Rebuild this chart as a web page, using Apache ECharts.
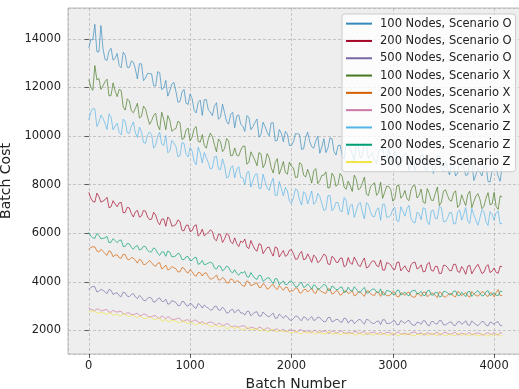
<!DOCTYPE html>
<html>
<head>
<meta charset="utf-8">
<script src="https://cdn.jsdelivr.net/npm/echarts@6/dist/echarts.min.js"></script>
<style>
  html, body { margin: 0; padding: 0; background: #fff; }
  #chart { width: 519px; height: 389px; }
</style>
</head>
<body>
<div id="chart"></div>
<script>
// batch number of each sample: index * step
var BATCH_STEP = 20;

var seriesNames = [
  "100 Nodes, Scenario O", "200 Nodes, Scenario O", "500 Nodes, Scenario O",
  "100 Nodes, Scenario X", "200 Nodes, Scenario X", "500 Nodes, Scenario X",
  "100 Nodes, Scenario Z", "200 Nodes, Scenario Z", "500 Nodes, Scenario Z"
];
var seriesColors = ["#348ABD", "#A60628", "#7A68A6", "#467821", "#D55E00", "#CC79A7", "#56B4E9", "#009E73", "#F0E442"];

var cost100O = [13620, 13970, 13960, 14600, 13470, 13460, 14550, 13610, 13160, 13110, 13500, 13610, 13120, 13200, 13400, 12900, 12810, 13450, 13320, 12830, 12820, 13090, 13040, 12760, 12350, 12980, 12970, 12280, 12390, 12580, 12570, 12560, 12070, 12060, 12650, 12600, 11910, 11980, 12290, 11640, 11870, 12140, 12210, 11840, 11390, 11420, 11810, 11920, 11350, 11300, 11730, 11540, 11060, 10950, 11390, 11480, 10850, 11500, 11500, 11070, 10990, 10840, 11240, 11370, 10690, 10780, 11310, 10960, 10600, 10490, 10890, 10980, 10340, 10830, 10870, 10480, 10410, 10190, 10840, 10770, 10260, 10390, 10560, 10700, 9950, 10080, 10570, 10390, 10160, 10010, 10540, 10550, 9800, 9820, 10270, 10120, 9770, 10190, 10080, 9610, 9620, 9760, 10100, 10090, 10070, 9450, 9470, 9940, 10160, 9780, 9560, 9500, 9800, 9990, 9290, 9550, 9890, 9320, 9500, 9920, 9900, 9360, 9220, 9610, 9630, 9220, 9040, 9710, 9610, 9480, 9260, 8970, 9680, 9550, 9090, 9200, 9700, 9610, 9070, 9220, 9320, 8990, 8850, 9360, 9430, 9540, 9000, 8950, 9490, 9040, 8780, 9370, 9190, 8740, 8800, 9150, 9300, 9250, 8590, 8820, 9160, 8590, 8850, 8960, 9230, 9220, 8600, 8590, 9010, 9040, 8460, 8690, 9190, 9180, 8650, 8520, 8980, 8650, 8400, 8870, 8770, 8360, 8470, 8940, 9000, 8710, 8380, 8410, 8870, 8940, 8170, 8400, 8670, 8500, 8360, 8750, 8820, 8130, 8110, 8580, 8650, 8640, 8350, 8140, 8800];

var cost200O = [7680, 7450, 7310, 7280, 7650, 7510, 7280, 7320, 7380, 7480, 7050, 7090, 7340, 7200, 7090, 7250, 7270, 6840, 6860, 7070, 7040, 6810, 6670, 6880, 6940, 6660, 6710, 6940, 6910, 6670, 6560, 6580, 6860, 6750, 6480, 6350, 6580, 6590, 6290, 6670, 6570, 6290, 6310, 6360, 6550, 6480, 6120, 6100, 6320, 6340, 6070, 6110, 6300, 6350, 5880, 5970, 6170, 5890, 5970, 6030, 6140, 6070, 5760, 5690, 5960, 5940, 5620, 5760, 5990, 5930, 5650, 5570, 5810, 5570, 5450, 5680, 5620, 5760, 5430, 5370, 5700, 5500, 5330, 5260, 5570, 5530, 5160, 5290, 5410, 5430, 5210, 5060, 5440, 5390, 5020, 5160, 5290, 5050, 5100, 5300, 5320, 5160, 4930, 4940, 5150, 5250, 4910, 4940, 5150, 4990, 4800, 5100, 5020, 4790, 4850, 4990, 5140, 5080, 4740, 4710, 5050, 4980, 4810, 4800, 4970, 4980, 4620, 4680, 5000, 4780, 4720, 5020, 4860, 4680, 4630, 4840, 4980, 4570, 4610, 4760, 4860, 4850, 4670, 4620, 4900, 4490, 4480, 4790, 4760, 4700, 4540, 4500, 4790, 4820, 4450, 4560, 4660, 4490, 4400, 4710, 4790, 4810, 4530, 4580, 4700, 4410, 4430, 4730, 4800, 4470, 4440, 4640, 4630, 4340, 4350, 4680, 4680, 4590, 4460, 4460, 4720, 4720, 4430, 4390, 4630, 4500, 4310, 4640, 4680, 4330, 4480, 4610, 4720, 4540, 4340, 4390, 4620, 4710, 4380, 4440, 4570, 4390, 4350, 4650, 4620];

var cost500O = [3680, 3770, 3810, 3800, 3580, 3610, 3690, 3650, 3590, 3510, 3690, 3650, 3480, 3530, 3550, 3430, 3390, 3580, 3540, 3410, 3390, 3480, 3510, 3380, 3310, 3440, 3370, 3240, 3220, 3320, 3360, 3320, 3160, 3190, 3300, 3340, 3200, 3180, 3290, 3080, 3100, 3230, 3190, 3150, 3020, 3030, 3190, 3180, 3040, 3000, 3120, 3070, 2950, 2910, 3110, 3050, 2920, 3050, 2970, 2920, 2840, 2850, 2990, 3000, 2840, 2830, 2960, 2870, 2720, 2730, 2840, 2870, 2720, 2820, 2850, 2720, 2720, 2630, 2780, 2790, 2600, 2680, 2750, 2770, 2590, 2590, 2760, 2670, 2600, 2560, 2650, 2710, 2500, 2510, 2680, 2590, 2500, 2610, 2560, 2440, 2410, 2490, 2590, 2580, 2460, 2400, 2560, 2530, 2410, 2490, 2570, 2410, 2440, 2550, 2520, 2440, 2350, 2370, 2530, 2540, 2350, 2390, 2450, 2450, 2350, 2340, 2510, 2480, 2300, 2410, 2430, 2280, 2350, 2440, 2450, 2340, 2260, 2460, 2430, 2350, 2290, 2290, 2370, 2390, 2240, 2440, 2440, 2280, 2290, 2310, 2380, 2400, 2240, 2230, 2410, 2350, 2290, 2380, 2420, 2270, 2220, 2210, 2340, 2320, 2250, 2400, 2390, 2230, 2190, 2360, 2370, 2270, 2270, 2410, 2400, 2230, 2230, 2280, 2340, 2340, 2210, 2210, 2350, 2370, 2250, 2310, 2400, 2230, 2210, 2390, 2310, 2250, 2190, 2280, 2370, 2350, 2220, 2180, 2350, 2310, 2250, 2340, 2360, 2200, 2210];

var cost100X = [12330, 12020, 11880, 12900, 12310, 12370, 11920, 12060, 12240, 12340, 11650, 11670, 12190, 11860, 11620, 11920, 11870, 11190, 11070, 11530, 11450, 11040, 10960, 11140, 11350, 10740, 10810, 11230, 11120, 10780, 10480, 10630, 10850, 10940, 10440, 10260, 10980, 10680, 10260, 10840, 10650, 10190, 10270, 10310, 10610, 10550, 9860, 9910, 10250, 10330, 9800, 9960, 10310, 10390, 9780, 9750, 10060, 9610, 9500, 9890, 10120, 9980, 9640, 9350, 9880, 9770, 9360, 9480, 9900, 9790, 9190, 9200, 9510, 9220, 9180, 9420, 9580, 9590, 8840, 8920, 9350, 9180, 9000, 8780, 9320, 9260, 8700, 8860, 9280, 9110, 8700, 8480, 8910, 9070, 8430, 8670, 8950, 8500, 8430, 8930, 8750, 8690, 8290, 8310, 8900, 8840, 8400, 8310, 8630, 8380, 8060, 8570, 8660, 8040, 8170, 8380, 8390, 8530, 7860, 7880, 8470, 8330, 7930, 8030, 8460, 8340, 7900, 7810, 8140, 7960, 7720, 8390, 8220, 7790, 7850, 8060, 8310, 7610, 7550, 7920, 8010, 8080, 7560, 7670, 8100, 7440, 7680, 7940, 7920, 7800, 7320, 7420, 7950, 7980, 7440, 7550, 7760, 7420, 7340, 7780, 7960, 7950, 7450, 7560, 7820, 7280, 7230, 7840, 7640, 7360, 7350, 7640, 7900, 7140, 7280, 7730, 7790, 7560, 7360, 7320, 7650, 7750, 7060, 7170, 7580, 7340, 7140, 7590, 7730, 7050, 7300, 7520, 7630, 7400, 7010, 7110, 7440, 7670, 7170, 7200, 7680, 7100, 6980, 7540, 7490];

var cost200X = [5330, 5420, 5440, 5440, 5270, 5230, 5340, 5260, 5160, 5090, 5280, 5230, 5030, 5100, 5110, 4990, 4970, 5140, 5120, 4930, 4910, 5000, 4980, 4890, 4770, 4930, 4880, 4710, 4720, 4800, 4870, 4790, 4680, 4640, 4760, 4790, 4530, 4590, 4690, 4490, 4520, 4630, 4580, 4540, 4410, 4410, 4590, 4560, 4420, 4360, 4500, 4420, 4280, 4230, 4390, 4370, 4240, 4360, 4370, 4220, 4110, 4130, 4200, 4280, 4080, 4080, 4180, 4120, 3960, 3960, 4120, 4090, 3960, 4040, 4020, 3920, 3840, 3820, 4040, 3990, 3840, 3880, 3910, 3960, 3770, 3770, 3930, 3860, 3700, 3740, 3850, 3900, 3750, 3680, 3850, 3750, 3650, 3770, 3770, 3590, 3630, 3640, 3750, 3740, 3540, 3550, 3670, 3700, 3580, 3650, 3740, 3570, 3520, 3720, 3660, 3590, 3560, 3520, 3710, 3700, 3500, 3530, 3640, 3610, 3450, 3490, 3610, 3630, 3520, 3560, 3640, 3420, 3460, 3590, 3570, 3490, 3400, 3620, 3630, 3510, 3460, 3440, 3590, 3560, 3400, 3610, 3510, 3430, 3430, 3470, 3600, 3560, 3400, 3380, 3550, 3520, 3440, 3550, 3580, 3430, 3370, 3370, 3530, 3490, 3400, 3570, 3580, 3390, 3450, 3530, 3530, 3430, 3350, 3590, 3540, 3400, 3370, 3450, 3510, 3520, 3410, 3380, 3600, 3560, 3430, 3500, 3560, 3420, 3370, 3600, 3510, 3440, 3410, 3480, 3600, 3560, 3450, 3390, 3550, 3540, 3380, 3560, 3680, 3430, 3440];

var cost500X = [2940, 2870, 2840, 2820, 2880, 2880, 2800, 2820, 2850, 2860, 2750, 2750, 2830, 2780, 2750, 2790, 2780, 2680, 2660, 2730, 2720, 2660, 2650, 2680, 2710, 2610, 2620, 2680, 2660, 2600, 2550, 2570, 2600, 2610, 2520, 2490, 2600, 2550, 2480, 2560, 2530, 2450, 2460, 2460, 2510, 2490, 2380, 2380, 2430, 2440, 2350, 2370, 2420, 2430, 2330, 2320, 2360, 2290, 2270, 2320, 2350, 2330, 2270, 2220, 2300, 2270, 2200, 2220, 2280, 2260, 2160, 2150, 2200, 2150, 2140, 2170, 2190, 2190, 2070, 2080, 2140, 2120, 2080, 2050, 2130, 2120, 2020, 2050, 2110, 2090, 2020, 1980, 2040, 2070, 1970, 2010, 2050, 1970, 1950, 2040, 2000, 2000, 1940, 1940, 2030, 2020, 1960, 1950, 1990, 1950, 1910, 1990, 2000, 1900, 1930, 1960, 1970, 1990, 1880, 1890, 1980, 1960, 1890, 1910, 1980, 1970, 1890, 1880, 1930, 1910, 1860, 1970, 1950, 1880, 1890, 1930, 1960, 1850, 1850, 1910, 1920, 1940, 1850, 1870, 1940, 1840, 1880, 1920, 1920, 1890, 1820, 1840, 1920, 1930, 1840, 1860, 1900, 1840, 1830, 1900, 1930, 1930, 1860, 1870, 1910, 1820, 1820, 1910, 1880, 1840, 1840, 1890, 1930, 1810, 1830, 1910, 1920, 1880, 1850, 1850, 1900, 1920, 1810, 1830, 1890, 1860, 1820, 1890, 1910, 1810, 1850, 1880, 1900, 1870, 1810, 1820, 1880, 1910, 1840, 1840, 1920, 1830, 1810, 1900, 1900];

var cost100Z = [10670, 10980, 11140, 11110, 10390, 10550, 10860, 10720, 10530, 10270, 10920, 10780, 10250, 10410, 10530, 10150, 10050, 10700, 10590, 10140, 10110, 10420, 10580, 10130, 9940, 10370, 10180, 9740, 9700, 10050, 10170, 10060, 9500, 9620, 10000, 10160, 9670, 9610, 10020, 9310, 9390, 9820, 9710, 9570, 9150, 9190, 9730, 9700, 9250, 9140, 9530, 9380, 8960, 8820, 9540, 9310, 8890, 9320, 9090, 8900, 8640, 8680, 9140, 9180, 8650, 8610, 9060, 8770, 8270, 8320, 8690, 8780, 8280, 8630, 8740, 8300, 8290, 8000, 8490, 8540, 7900, 8170, 8410, 8450, 7840, 7850, 8430, 8130, 7870, 7760, 8070, 8270, 7560, 7560, 8130, 7840, 7540, 7890, 7740, 7330, 7220, 7470, 7830, 7770, 7370, 7160, 7710, 7610, 7210, 7460, 7740, 7190, 7280, 7640, 7510, 7220, 6940, 6990, 7540, 7560, 6930, 7030, 7270, 7250, 6930, 6880, 7470, 7350, 6760, 7130, 7190, 6650, 6910, 7200, 7260, 6870, 6590, 7260, 7170, 6890, 6690, 6680, 6980, 7040, 6530, 7200, 7190, 6650, 6670, 6730, 6990, 7070, 6520, 6490, 7090, 6900, 6700, 7010, 7150, 6620, 6460, 6420, 6870, 6800, 6560, 7050, 7010, 6470, 6350, 6920, 6950, 6610, 6610, 7100, 7050, 6480, 6470, 6620, 6850, 6850, 6390, 6390, 6880, 6960, 6540, 6770, 7060, 6490, 6410, 7020, 6760, 6530, 6330, 6630, 6970, 6900, 6470, 6320, 6890, 6770, 6540, 6840, 6920, 6380, 6410];

var cost200Z = [6030, 5890, 5810, 5790, 5990, 5910, 5770, 5790, 5810, 5870, 5610, 5630, 5780, 5700, 5610, 5710, 5720, 5460, 5460, 5580, 5560, 5420, 5340, 5460, 5490, 5310, 5340, 5470, 5450, 5300, 5230, 5240, 5400, 5340, 5170, 5090, 5230, 5230, 5050, 5270, 5210, 5030, 5040, 5070, 5180, 5130, 4920, 4910, 5030, 5040, 4870, 4890, 4990, 5010, 4720, 4760, 4880, 4700, 4730, 4770, 4810, 4770, 4570, 4520, 4660, 4640, 4450, 4520, 4650, 4600, 4430, 4370, 4500, 4350, 4270, 4390, 4360, 4430, 4220, 4190, 4380, 4250, 4140, 4100, 4270, 4250, 4020, 4090, 4150, 4170, 4030, 3930, 4140, 4110, 3880, 3960, 4040, 3880, 3900, 4020, 4030, 3930, 3790, 3800, 3920, 3980, 3770, 3800, 3920, 3820, 3700, 3880, 3830, 3700, 3720, 3810, 3890, 3860, 3660, 3630, 3830, 3780, 3680, 3680, 3780, 3780, 3560, 3600, 3780, 3650, 3620, 3800, 3700, 3590, 3560, 3690, 3770, 3540, 3550, 3640, 3700, 3700, 3580, 3550, 3710, 3470, 3460, 3650, 3620, 3600, 3490, 3470, 3650, 3660, 3450, 3510, 3580, 3470, 3420, 3600, 3640, 3660, 3500, 3530, 3610, 3440, 3440, 3620, 3660, 3460, 3450, 3570, 3560, 3390, 3400, 3600, 3600, 3550, 3470, 3470, 3620, 3620, 3450, 3430, 3570, 3490, 3390, 3590, 3610, 3400, 3490, 3570, 3640, 3530, 3420, 3440, 3590, 3640, 3440, 3480, 3560, 3450, 3430, 3610, 3600];

var cost500Z = [2750, 2790, 2800, 2790, 2720, 2700, 2750, 2730, 2680, 2650, 2730, 2710, 2620, 2650, 2660, 2600, 2590, 2680, 2680, 2590, 2580, 2620, 2610, 2560, 2520, 2590, 2560, 2490, 2490, 2520, 2550, 2510, 2460, 2440, 2490, 2510, 2380, 2410, 2460, 2360, 2370, 2420, 2400, 2380, 2320, 2310, 2400, 2370, 2310, 2280, 2340, 2310, 2240, 2210, 2290, 2290, 2230, 2280, 2280, 2210, 2160, 2170, 2200, 2230, 2140, 2150, 2190, 2160, 2080, 2090, 2160, 2140, 2080, 2120, 2110, 2060, 2030, 2020, 2120, 2100, 2020, 2040, 2060, 2080, 1990, 1990, 2050, 2030, 1950, 1970, 2020, 2050, 1970, 1940, 2020, 1980, 1930, 1980, 1970, 1900, 1910, 1910, 1960, 1950, 1860, 1870, 1920, 1930, 1880, 1920, 1950, 1870, 1860, 1940, 1910, 1880, 1870, 1850, 1940, 1930, 1840, 1860, 1900, 1890, 1820, 1840, 1890, 1900, 1850, 1870, 1900, 1800, 1820, 1880, 1870, 1830, 1790, 1890, 1900, 1840, 1820, 1810, 1880, 1860, 1800, 1890, 1850, 1810, 1800, 1820, 1890, 1870, 1790, 1790, 1860, 1850, 1810, 1860, 1870, 1810, 1780, 1780, 1850, 1840, 1800, 1870, 1880, 1790, 1820, 1860, 1860, 1810, 1770, 1890, 1860, 1800, 1780, 1810, 1840, 1840, 1790, 1780, 1880, 1860, 1800, 1830, 1860, 1790, 1770, 1870, 1830, 1800, 1770, 1800, 1860, 1840, 1790, 1760, 1830, 1830, 1750, 1840, 1850, 1770, 1780];

var allCosts = [cost100O, cost200O, cost500O, cost100X, cost200X, cost500X, cost100Z, cost200Z, cost500Z];

(function () {
  var myChart = echarts.init(document.getElementById("chart"), null, { renderer: "canvas" });
  var font = "DejaVu Sans";

  var series = allCosts.map(function (vals, k) {
    return {
      name: seriesNames[k],
      type: "line",
      showSymbol: false,
      symbol: "none",
      color: seriesColors[k],
      // thin, slightly see-through lines like the antialiased originals
      lineStyle: { color: seriesColors[k], width: 0.8, opacity: 0.85 },
      itemStyle: { color: seriesColors[k] },
      emphasis: { disabled: true },
      data: vals.map(function (v, i) { return [i * BATCH_STEP, v]; })
    };
  });

  var plain = function (v) { return String(v); };

  var option = {
    animation: false,
    backgroundColor: "#ffffff",
    grid: {
      left: 68, top: 8, width: 456, height: 346,
      show: true,
      backgroundColor: "#eeeeee",
      borderColor: "#bcbcbc",
      borderWidth: 1,
      containLabel: false,
      outerBoundsMode: "none"
    },
    legend: {
      orient: "vertical",
      left: 342, top: 14,
      padding: [3, 4, 3, 4],
      itemGap: 4,
      itemWidth: 26,
      itemHeight: 2,
      icon: "rect",
      backgroundColor: "rgba(255,255,255,0.8)",
      borderColor: "#cccccc",
      borderWidth: 1,
      borderRadius: 3,
      textStyle: { fontFamily: font, fontSize: 11.5, color: "#222", lineHeight: 13.3, padding: [0, 0, 0, 3] },
      data: seriesNames
    },
    xAxis: {
      type: "value",
      min: -205, max: 4295,
      minInterval: 1000, maxInterval: 1000,
      name: "Batch Number",
      nameLocation: "middle",
      nameGap: 20,
      nameTextStyle: { fontFamily: font, fontSize: 14, color: "#222" },
      axisLine: { show: false },
      axisTick: { show: true, inside: false, length: 4, lineStyle: { color: "#333", width: 0.8 } },
      axisLabel: { fontFamily: font, fontSize: 11.5, color: "#222", margin: 6, showMinLabel: false, showMaxLabel: false, formatter: plain },
      splitLine: { show: true, lineStyle: { color: "#b2b2b2", type: [3, 2], width: 0.7 } }
    },
    yAxis: {
      type: "value",
      min: 1030, max: 15270,
      minInterval: 2000, maxInterval: 2000,
      name: "Batch Cost",
      nameLocation: "middle",
      nameGap: 47,
      nameTextStyle: { fontFamily: font, fontSize: 14, color: "#222" },
      axisLine: { show: false },
      axisTick: { show: true, inside: false, length: 4, lineStyle: { color: "#333", width: 0.8 } },
      axisLabel: { fontFamily: font, fontSize: 11.5, color: "#222", margin: 7, showMinLabel: false, showMaxLabel: false, formatter: plain },
      splitLine: { show: true, lineStyle: { color: "#b2b2b2", type: [3, 2], width: 0.7 } }
    },
    series: series
  };

  myChart.setOption(option);
  window.addEventListener("resize", function () {
    myChart.resize();
  });
})();
</script>
</body>
</html>
